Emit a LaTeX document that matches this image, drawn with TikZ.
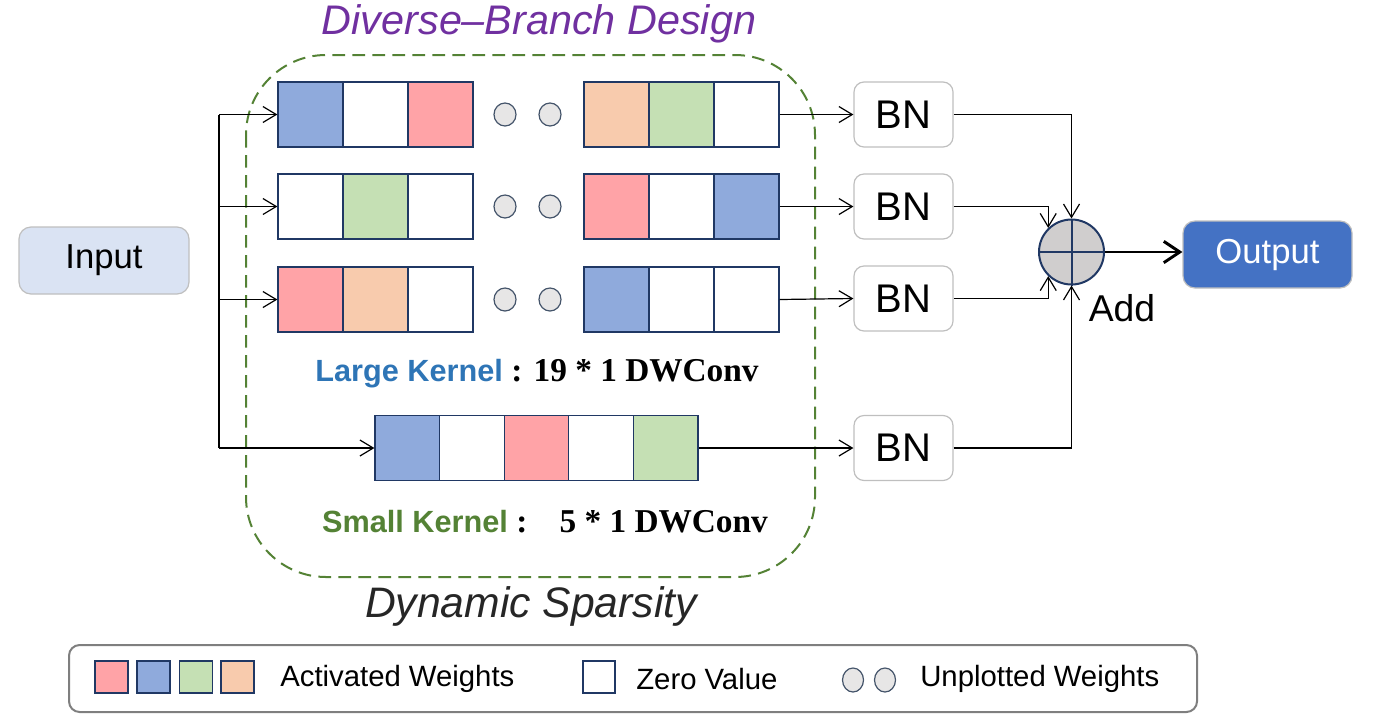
\documentclass[tikz,border=0pt]{standalone}
\usepackage{fontspec}
\setmainfont{Liberation Sans}
\newfontfamily\timesfont{Liberation Serif}
\usetikzlibrary{arrows.meta,shapes.geometric}
\definecolor{cblue}{HTML}{8FAADC}
\definecolor{cred}{HTML}{FFA3A7}
\definecolor{cgreen}{HTML}{C5E0B4}
\definecolor{corange}{HTML}{F8CBAD}
\definecolor{cellline}{HTML}{203864}
\definecolor{dotfill}{HTML}{E7E6E6}
\definecolor{dotline}{HTML}{44546A}
\definecolor{boxgray}{HTML}{BFBFBF}
\definecolor{inputfill}{HTML}{DAE3F3}
\definecolor{outfill}{HTML}{4472C4}
\definecolor{addfill}{HTML}{D0CECE}
\definecolor{lkblue}{HTML}{2E75B6}
\definecolor{skgreen}{HTML}{548235}
\definecolor{titlepurple}{HTML}{7030A0}
\definecolor{textgray}{HTML}{262626}
\definecolor{legendline}{HTML}{7F7F7F}
\tikzset{
  wcell/.style={draw=cellline, line width=0.9pt, minimum width=48.75pt, minimum height=48.75pt, inner sep=0pt},
  udot/.style={ellipse, draw=dotline, fill=dotfill, line width=0.9pt, minimum width=16.5pt, minimum height=17.25pt, inner sep=0pt},
  bnbox/.style={draw=boxgray, line width=0.9pt, rounded corners=7.5pt, minimum width=74.25pt, minimum height=48.75pt, font=\fontsize{30}{36}\selectfont},
  arr/.style={-{Straight Barb[length=10pt,width=12pt]}, line width=0.9pt},
  legtext/.style={anchor=west, inner sep=0pt, font=\fontsize{22}{26}\selectfont},
}
\begin{document}
\begin{tikzpicture}[x=0.75pt,y=-0.75pt]
\useasboundingbox (0,0) rectangle (1373,722);
% dashed frame and its captions
\draw[skgreen, dashed, dash pattern=on 9.5pt off 5.5pt, line width=1.5pt, rounded corners=60pt] (246,55) rectangle (815,577);
\node[text=titlepurple, font=\fontsize{31}{36}\selectfont\itshape] (title) at (539,24) {Diverse--Branch Design};
\node[text=textgray, font=\fontsize{32}{38}\selectfont\itshape] (sparse) at (531,606) {Dynamic Sparsity};
% input
\node[draw=boxgray, fill=inputfill, line width=0.9pt, rounded corners=9pt, minimum width=127.5pt, minimum height=50.25pt, font=\fontsize{26}{30}\selectfont] (input) at (104,260.5) {Input};
% large kernel rows
\foreach \c [count=\i] in {cblue,white,cred} \node[wcell,fill=\c] (ra\i) at ({245.5+65*\i},114.5) {};
\foreach \c [count=\i] in {corange,cgreen,white} \node[wcell,fill=\c] (rb\i) at ({551.5+65*\i},114.5) {};
\foreach \c [count=\i] in {white,cgreen,white} \node[wcell,fill=\c] (rc\i) at ({245.5+65*\i},206.5) {};
\foreach \c [count=\i] in {cred,white,cblue} \node[wcell,fill=\c] (rd\i) at ({551.5+65*\i},206.5) {};
\foreach \c [count=\i] in {cred,corange,white} \node[wcell,fill=\c] (re\i) at ({245.5+65*\i},299.5) {};
\foreach \c [count=\i] in {cblue,white,white} \node[wcell,fill=\c] (rf\i) at ({551.5+65*\i},299.5) {};
\node[udot] (d1a) at (505,114.5) {};
\node[udot] (d1b) at (550,114.5) {};
\node[udot] (d2a) at (505,206.5) {};
\node[udot] (d2b) at (550,206.5) {};
\node[udot] (d3a) at (505,299.5) {};
\node[udot] (d3b) at (550,299.5) {};
\node[inner sep=0pt, font=\fontsize{23}{28}\selectfont] (large) at (537,374) {\textcolor{lkblue}{\bfseries Large Kernel} {\timesfont\bfseries\fontsize{25}{28}\selectfont: 19 * 1 DWConv}};
% small kernel row
\foreach \c [count=\i] in {cblue,white,cred,white,cgreen} \node[wcell,fill=\c,minimum width=48.45pt] (s\i) at ({342.7+64.6*\i},448) {};
\node[inner sep=0pt, font=\fontsize{23}{28}\selectfont] (small) at (545,522) {\textcolor{skgreen}{\bfseries Small Kernel} {\timesfont\bfseries\fontsize{25}{28}\selectfont:\hspace{24pt}5 * 1 DWConv}};
% batch norms, add, output
\node[bnbox] (bn1) at (903.5,114.5) {BN};
\node[bnbox] (bn2) at (903.5,206.5) {BN};
\node[bnbox] (bn3) at (903.5,298.5) {BN};
\node[bnbox] (bn4) at (903.5,448) {BN};
\node[circle, draw=cellline, fill=addfill, line width=1.5pt, minimum size=48.75pt, inner sep=0pt] (add) at (1071.5,252) {};
\draw[cellline, line width=1.5pt] (add.north) -- (add.south) (add.west) -- (add.east);
\node[font=\fontsize{28}{32}\selectfont] (addlabel) at (1122,308) {Add};
\node[draw=boxgray, fill=outfill, text=white, line width=0.9pt, rounded corners=9pt, minimum width=126.75pt, minimum height=50.25pt, font=\fontsize{26}{30}\selectfont] (output) at (1267.5,254.5) {Output};
% connectors
\coordinate (split1) at (219,114.5);
\coordinate (split4) at (219,448);
\draw[line width=0.9pt] (split1) -- (split4);
\draw[arr] (split1) -- (ra1.west);
\draw[arr] (split1 |- rc1.west) -- (rc1.west);
\draw[arr] (split1 |- re1.west) -- (re1.west);
\draw[arr] (split4) -- (s1.west);
\draw[arr] (rb3.east) -- (bn1.west);
\draw[arr] (rd3.east) -- (bn2.west);
\draw[arr] (rf3.east) -- (bn3.west);
\draw[arr] (s5.east) -- (bn4.west);
\draw[arr] (bn1.east) -| (add.north);
\draw[arr] (bn2.east) -| (add.134);
\draw[arr] (bn3.east) -| (add.226);
\draw[arr] (bn4.east) -| (add.south);
\draw[-{Straight Barb[length=12pt,width=16pt]}, line width=2.2pt] (add.east) -- (add.east -| output.west);
% legend
\draw[legendline, line width=1.5pt, rounded corners=8pt] (69,645) rectangle (1197,712);
\node[wcell, fill=cred, minimum width=24.75pt, minimum height=24pt] (lg1) at (111.5,677) {};
\node[wcell, fill=cblue, minimum width=24.75pt, minimum height=24pt] (lg2) at (153.5,677) {};
\node[wcell, fill=cgreen, minimum width=24.75pt, minimum height=24pt] (lg3) at (196,677) {};
\node[wcell, fill=corange, minimum width=24.75pt, minimum height=24pt] (lg4) at (237.5,677) {};
\node[legtext] (lgact) at (280,679) {Activated\hspace{6pt}Weights};
\node[wcell, fill=white, minimum width=24pt, minimum height=24pt] (lg5) at (599,677) {};
\node[legtext] (lgzero) at (636,679) {Zero\hspace{6pt}Value};
\node[udot, minimum width=15.75pt, minimum height=18pt] (lg6) at (853,680) {};
\node[udot, minimum width=15.75pt, minimum height=18pt] (lg7) at (885,680) {};
\node[legtext] (lgunp) at (920,679) {Unplotted\hspace{6pt}Weights};
\end{tikzpicture}
\end{document}
